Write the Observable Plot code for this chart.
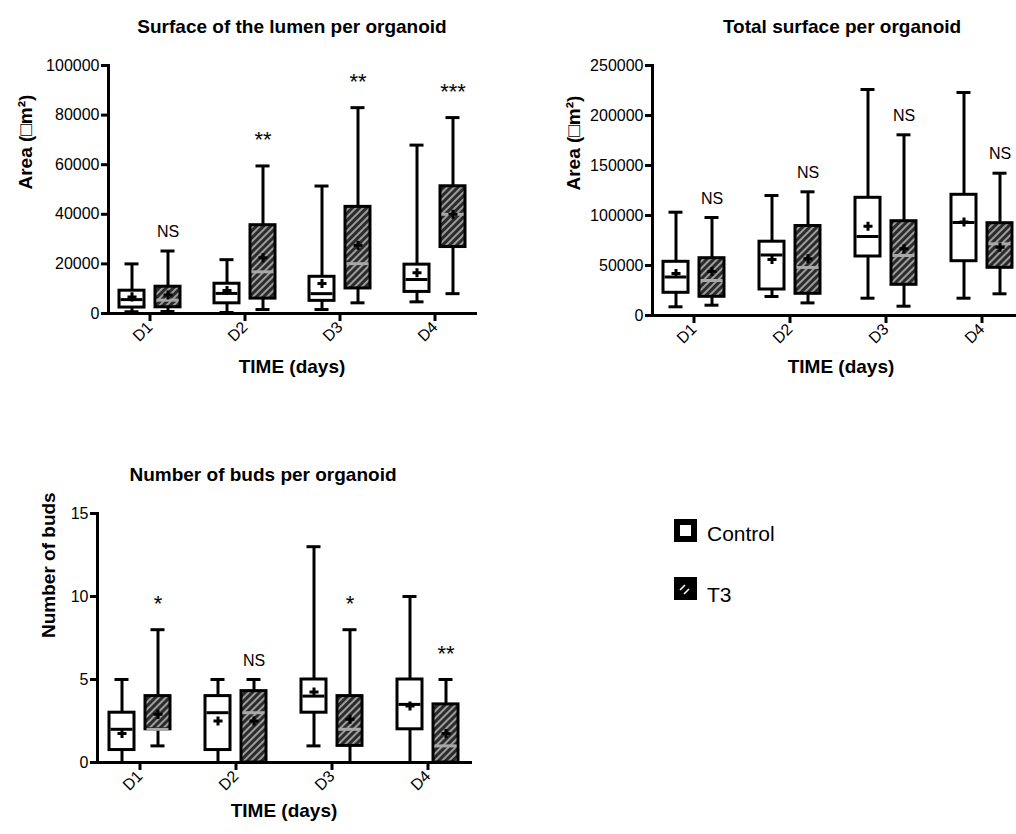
<!DOCTYPE html>
<html>
<head>
<meta charset="utf-8">
<script src="https://cdn.jsdelivr.net/npm/d3@7"></script>
<script src="https://cdn.jsdelivr.net/npm/@observablehq/plot@0.6"></script>
<style>
  html, body { margin: 0; padding: 0; background: #fff; }
  body { width: 1016px; height: 834px; overflow: hidden; position: relative;
         font-family: "Liberation Sans", Arial, sans-serif; color: #000; }
  .panel { position: absolute; }
  .legend-item { position: absolute; font-size: 21px; line-height: 21px; white-space: nowrap; }
  .swatch { position: absolute; }
</style>
</head>
<body>
<svg width="0" height="0" style="position:absolute">
  <defs>
    <pattern id="hatch" patternUnits="userSpaceOnUse" width="5" height="5" patternTransform="rotate(45)">
      <rect width="5" height="5" fill="#2b2b2b"></rect>
      <line x1="1" y1="0" x2="1" y2="5" stroke="#b8b8b8" stroke-width="1.6"></line>
    </pattern>
  </defs>
</svg>

<div id="p1" class="panel" style="left:0px;top:0px;"></div>
<div id="p2" class="panel" style="left:540px;top:0px;"></div>
<div id="p3" class="panel" style="left:0px;top:448px;"></div>

<svg class="swatch" style="left:674px;top:519px" width="23" height="23">
  <rect width="23" height="23" fill="#000"></rect>
  <rect x="6" y="6" width="11" height="11" fill="#fff"></rect>
</svg>
<div class="legend-item" style="left:707px;top:523px">Control</div>
<svg class="swatch" style="left:674px;top:577px" width="23" height="23">
  <rect width="23" height="23" fill="#000"></rect>
  <line x1="6" y1="13" x2="11" y2="8" stroke="#fff" stroke-width="1.6"></line>
  <line x1="10" y1="17" x2="15" y2="12" stroke="#fff" stroke-width="1.6"></line>
</svg>
<div class="legend-item" style="left:707px;top:584px">T3</div>

<script>
// ---------- data ----------
const days = ["D1", "D2", "D3", "D4"];
const groups = ["Control", "T3"];
// each row: [min, q1, median, q3, max, mean]
const lumenControl = [
  [700, 2400, 5600, 9200, 20000, 6700],
  [400, 4100, 8100, 12000, 21700, 9300],
  [1600, 5100, 8000, 14800, 51400, 12100],
  [4700, 8700, 13700, 19700, 67900, 16400]
];
const lumenT3 = [
  [800, 2500, 5400, 10800, 25200, 7500],
  [1600, 6000, 16800, 35600, 59500, 22500],
  [4300, 10100, 20100, 43000, 83000, 27500],
  [8000, 26800, 40000, 51300, 79000, 40000]
];
const lumenSig = ["NS", "**", "**", "***"];
const lumenTicks = [0, 20000, 40000, 60000, 80000, 100000];

const totalControl = [
  [8700, 22700, 38500, 53700, 103300, 42000],
  [19000, 26000, 60500, 73800, 120000, 56000],
  [17300, 59000, 79000, 117700, 226000, 89300],
  [17300, 54300, 93000, 120700, 223000, 93500]
];
const totalT3 = [
  [10300, 18700, 35000, 57300, 98000, 44000],
  [12600, 21700, 48000, 89500, 123700, 56700],
  [9300, 30700, 60000, 94300, 180700, 66700],
  [21700, 47700, 71700, 92300, 142300, 68300]
];
const totalSig = ["NS", "NS", "NS", "NS"];
const totalTicks = [0, 50000, 100000, 150000, 200000, 250000];

const budsControl = [
  [0, 0.75, 2, 3, 5, 1.75],
  [0, 0.75, 3, 4, 5, 2.5],
  [1, 3, 4, 5, 13, 4.25],
  [0, 2, 3.5, 5, 10, 3.4]
];
const budsT3 = [
  [1, 2, 2, 4, 8, 2.9],
  [0, 0, 3, 4.3, 5, 2.5],
  [0, 1, 2, 4, 8, 2.6],
  [0, 0, 1, 3.5, 5, 1.75]
];
const budsSig = ["*", "NS", "*", "**"];
const budsTicks = [0, 5, 10, 15];

// ---------- helpers ----------
function toRows(arr, group, sig) {
  return days.map((day, i) => ({
    day, group,
    min: arr[i][0], q1: arr[i][1], median: arr[i][2], q3: arr[i][3], max: arr[i][4], mean: arr[i][5],
    sig: sig ? sig[i] : null
  }));
}

function boxMarks(data, dx, fill, medianStroke) {
  return [
    Plot.ruleX(data, {x: "day", y1: "min", y2: "max", dx, stroke: "#000", strokeWidth: 3}),
    Plot.barY(data, {x: "day", y1: "q1", y2: "q3", dx, fill, stroke: "#000", strokeWidth: 3}),
    Plot.tickY(data, {x: "day", y: "median", dx, stroke: medianStroke, strokeWidth: 3, insetLeft: 1.5, insetRight: 1.5}),
    Plot.tickY(data, {x: "day", y: "min", dx, stroke: "#000", strokeWidth: 3, insetLeft: 5.5, insetRight: 5.5}),
    Plot.tickY(data, {x: "day", y: "max", dx, stroke: "#000", strokeWidth: 3, insetLeft: 5.5, insetRight: 5.5}),
    Plot.dot(data, {x: "day", y: "mean", dx, symbol: "cross", r: 3.8, fill: "#000", stroke: "none"})
  ];
}

function panel(cfg) {
  const ctrl = toRows(cfg.control, "Control");
  const t3 = toRows(cfg.t3, "T3", cfg.sig);
  return Plot.plot({
    width: cfg.width,
    height: cfg.height,
    marginLeft: cfg.marginLeft,
    marginRight: cfg.marginRight,
    marginTop: cfg.marginTop,
    marginBottom: cfg.marginBottom,
    style: {fontFamily: "'Liberation Sans', Arial, sans-serif", background: "transparent", overflow: "visible", maxWidth: "none", color: "#000"},
    x: {domain: days, paddingInner: 0.74, paddingOuter: 0.3, label: null, axis: null},
    y: {domain: cfg.domain, label: null, axis: null},
    marks: [
      Plot.axisY({ticks: cfg.ticks, tickFormat: d => String(d), tickSize: 7, strokeWidth: 3, fontSize: 16, tickPadding: 2, label: null}),
      Plot.axisX({tickSize: 8, strokeWidth: 3, tickRotate: -45, fontSize: 16, tickPadding: 3, label: null}),
      ...boxMarks(ctrl, -18, "#fff", "#000"),
      ...boxMarks(t3, 18, "url(#hatch)", "#a8a8a8"),
      Plot.text(t3, {filter: d => d.sig === "NS", x: "day", y: "max", dx: 18, dy: -14, text: "sig", lineAnchor: "bottom", fontSize: 16}),
      Plot.text(t3, {filter: d => d.sig !== "NS", x: "day", y: "max", dx: 18, dy: -19, text: "sig", lineAnchor: "bottom", fontSize: 22}),
      Plot.frame({anchor: "left", strokeWidth: 3}),
      Plot.frame({anchor: "bottom", strokeWidth: 3}),
      Plot.text([cfg.title], {frameAnchor: "top", dy: -46, dx: cfg.titleDx || 0, fontSize: 19, fontWeight: "bold"}),
      Plot.text([cfg.ylabel], {frameAnchor: "left", dx: cfg.ylabelDx, rotate: -90, fontSize: 19, fontWeight: "bold"}),
      Plot.text(["TIME (days)"], {frameAnchor: "bottom", dy: cfg.xlabelDy, dx: cfg.xlabelDx || 0, fontSize: 19, fontWeight: "bold"})
    ]
  });
}

document.getElementById("p1").appendChild(panel({
  title: "Surface of the lumen per organoid",
  ylabel: "Area (\u25A1m\u00B2)",
  control: lumenControl, t3: lumenT3, sig: lumenSig,
  domain: [0, 100000], ticks: lumenTicks,
  width: 490, height: 400, marginLeft: 108, marginRight: 15, marginTop: 65, marginBottom: 87,
  ylabelDx: -83, xlabelDy: 59
}));

document.getElementById("p2").appendChild(panel({
  title: "Total surface per organoid",
  ylabel: "Area (\u25A1m\u00B2)",
  control: totalControl, t3: totalT3, sig: totalSig,
  domain: [0, 250000], ticks: totalTicks,
  width: 493, height: 400, marginLeft: 112, marginRight: 10, marginTop: 65, marginBottom: 85,
  ylabelDx: -79, xlabelDy: 57, titleDx: 4, xlabelDx: 3
}));

document.getElementById("p3").appendChild(panel({
  title: "Number of buds per organoid",
  ylabel: "Number of buds",
  control: budsControl, t3: budsT3, sig: budsSig,
  domain: [0, 15], ticks: budsTicks,
  width: 490, height: 386, marginLeft: 97, marginRight: 20, marginTop: 65, marginBottom: 72,
  ylabelDx: -49, xlabelDy: 54, titleDx: -21
}));
</script>
</body>
</html>
